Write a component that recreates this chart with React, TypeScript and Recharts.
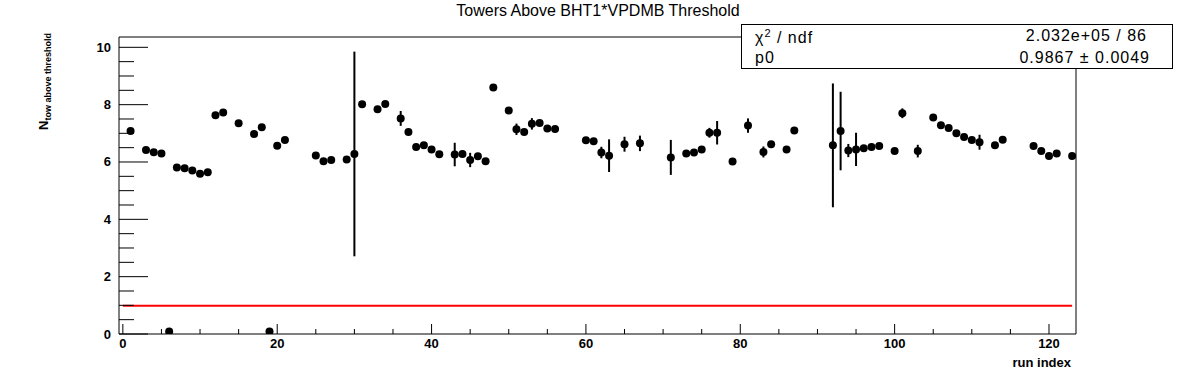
import React from 'react'
import { ComposedChart, Scatter, ErrorBar, XAxis, YAxis, ReferenceLine, ReferenceArea } from 'recharts'

// run index of every filled bin
const runIndex = [
  1, 3, 4, 5, 6, 7, 8, 9, 10, 11, 12, 13, 15, 17, 18, 19, 20, 21,
  25, 26, 27, 29, 30, 31, 33, 34, 36, 37, 38, 39, 40, 41,
  43, 44, 45, 46, 47, 48, 50, 51, 52, 53, 54, 55, 56,
  60, 61, 62, 63, 65, 67, 71, 73, 74, 75, 76, 77, 79, 81, 83, 84, 86, 87,
  92, 93, 94, 95, 96, 97, 98, 100, 101, 103, 105, 106, 107, 108, 109, 110, 111, 113, 114,
  118, 119, 120, 121, 123,
]

// towers above threshold (mean per run)
const nTow = [
  7.08, 6.42, 6.34, 6.30, 0.09, 5.81, 5.78, 5.70, 5.59, 5.64, 7.63, 7.73, 7.35, 6.98, 7.21, 0.09, 6.57, 6.77,
  6.23, 6.03, 6.07, 6.09, 6.28, 8.01, 7.84, 8.02, 7.52, 7.05, 6.52, 6.58, 6.44, 6.27,
  6.26, 6.28, 6.07, 6.20, 6.03, 8.60, 7.80, 7.14, 7.05, 7.33, 7.36, 7.17, 7.15,
  6.76, 6.72, 6.33, 6.22, 6.62, 6.65, 6.16, 6.30, 6.33, 6.44, 7.02, 7.02, 6.02, 7.27, 6.35, 6.62, 6.44, 7.10,
  6.58, 7.08, 6.40, 6.44, 6.48, 6.52, 6.56, 6.38, 7.70, 6.38, 7.55, 7.28, 7.19, 7.00, 6.87, 6.77, 6.69, 6.58, 6.78,
  6.56, 6.38, 6.21, 6.30, 6.21,
]

// errors on the mean
const nTowErr = [
  0.10, 0.08, 0.08, 0.08, 0.05, 0.08, 0.08, 0.08, 0.08, 0.08, 0.10, 0.10, 0.10, 0.10, 0.10, 0.05, 0.10, 0.10,
  0.10, 0.10, 0.10, 0.10, 3.57, 0.10, 0.10, 0.10, 0.26, 0.10, 0.10, 0.10, 0.10, 0.10,
  0.41, 0.10, 0.25, 0.10, 0.10, 0.10, 0.10, 0.20, 0.10, 0.20, 0.10, 0.10, 0.10,
  0.10, 0.10, 0.20, 0.57, 0.26, 0.27, 0.61, 0.10, 0.10, 0.10, 0.17, 0.41, 0.10, 0.25, 0.19, 0.10, 0.10, 0.10,
  2.16, 1.37, 0.23, 0.58, 0.10, 0.10, 0.10, 0.10, 0.17, 0.22, 0.10, 0.10, 0.10, 0.10, 0.10, 0.10, 0.26, 0.10, 0.10,
  0.10, 0.10, 0.10, 0.10, 0.10,
]

const xTicks = [0, 5, 10, 15, 20, 25, 30, 35, 40, 45, 50, 55, 60, 65, 70, 75, 80, 85, 90, 95, 100, 105, 110, 115, 120]
const yTicks = [0, 0.5, 1, 1.5, 2, 2.5, 3, 3.5, 4, 4.5, 5, 5.5, 6, 6.5, 7, 7.5, 8, 8.5, 9, 9.5, 10]

const p0 = 0.9867
const fitRange = [0, 123]

const data = runIndex.map((i, k) => ({ i, v: nTow[k], err: nTowErr[k] }))

const FONT = '"Liberation Sans", Arial, Helvetica, sans-serif'

const YTick = (props: any) => {
  const { x, y, payload } = props
  const major = payload.value % 2 === 0
  return (
    <g>
      <line x1={x} x2={x + (major ? 29 : 15)} y1={y} y2={y} stroke="#000" strokeWidth={1} />
      {major && (
        <text x={x - 8} y={y} dy={4.5} textAnchor="end" fontFamily={FONT} fontWeight="bold" fontSize={13} fill="#000">
          {payload.value}
        </text>
      )}
    </g>
  )
}

const XTick = (props: any) => {
  const { x, y, payload } = props
  const major = payload.value % 20 === 0
  return (
    <g>
      <line x1={x} x2={x} y1={y} y2={y - (major ? 10 : 5)} stroke="#000" strokeWidth={1} />
      {major && (
        <text x={x} y={y} dy={14} textAnchor="middle" fontFamily={FONT} fontWeight="bold" fontSize={13} fill="#000">
          {payload.value}
        </text>
      )}
    </g>
  )
}

const Marker = (props: any) => <circle cx={props.cx} cy={props.cy} r={4} fill="#000" />

export default function App() {
  return (
    <div style={{ position: 'absolute', left: 0, top: 0, width: 1196, height: 372, background: '#fff', fontFamily: FONT }}>
      <ComposedChart width={1196} height={372} data={data} margin={{ top: 37, right: 120, bottom: 37, left: 118 }}>
        <XAxis
          type="number"
          dataKey="i"
          domain={[-0.5, 123.5]}
          ticks={xTicks}
          tick={XTick}
          tickLine={false}
          axisLine={false}
          tickSize={0}
          tickMargin={0}
          height={1}
          interval={0}
          allowDataOverflow
        />
        <YAxis
          type="number"
          domain={[0, 10.36]}
          ticks={yTicks}
          tick={YTick}
          tickLine={false}
          axisLine={false}
          tickSize={0}
          tickMargin={0}
          width={1}
          interval={0}
          allowDataOverflow
        />
        <ReferenceArea x1={-0.5} x2={123.5} y1={0} y2={10.36} fill="none" fillOpacity={0} stroke="#000" strokeWidth={1} />
        <ReferenceLine
          segment={[{ x: fitRange[0], y: p0 }, { x: fitRange[1], y: p0 }]}
          stroke="#ff0000"
          strokeWidth={2}
          ifOverflow="visible"
        />
        <Scatter dataKey="v" shape={Marker} isAnimationActive={false}>
          <ErrorBar dataKey="err" direction="y" width={0} stroke="#000" strokeWidth={2} isAnimationActive={false} />
        </Scatter>
      </ComposedChart>

      <div style={{ position: 'absolute', left: 0, width: 1196, top: 3, textAlign: 'center', fontSize: 16, lineHeight: '16px', color: '#000' }}>
        Towers Above BHT1*VPDMB Threshold
      </div>

      <div
        style={{
          position: 'absolute',
          left: 37,
          top: 130,
          transform: 'rotate(-90deg)',
          transformOrigin: 'left top',
          whiteSpace: 'nowrap',
          fontWeight: 'bold',
          fontSize: 13,
          lineHeight: '13px',
        }}
      >
        N<sub style={{ fontSize: 9, verticalAlign: '-3px' }}>tow above threshold</sub>
      </div>

      <div style={{ position: 'absolute', right: 1196 - 1071, top: 356, fontWeight: 'bold', fontSize: 13, lineHeight: '13px' }}>
        run index
      </div>

      <div
        style={{
          position: 'absolute',
          left: 741,
          top: 24,
          width: 432,
          height: 45,
          boxSizing: 'border-box',
          border: '1px solid #000',
          background: '#fff',
          fontSize: 16,
          letterSpacing: 1,
          lineHeight: '15px',
        }}
      >
        <div style={{ position: 'absolute', left: 13, top: 2.5 }}>
          χ<sup style={{ fontSize: 11, lineHeight: '11px', verticalAlign: '6px' }}>2</sup> / ndf
        </div>
        <div style={{ position: 'absolute', left: 13, top: 24.5 }}>p0</div>
        <div style={{ position: 'absolute', right: 25, top: 2.5 }}>2.032e+05 / 86</div>
        <div style={{ position: 'absolute', right: 22, top: 24.5 }}>0.9867 ± 0.0049</div>
      </div>
    </div>
  )
}
